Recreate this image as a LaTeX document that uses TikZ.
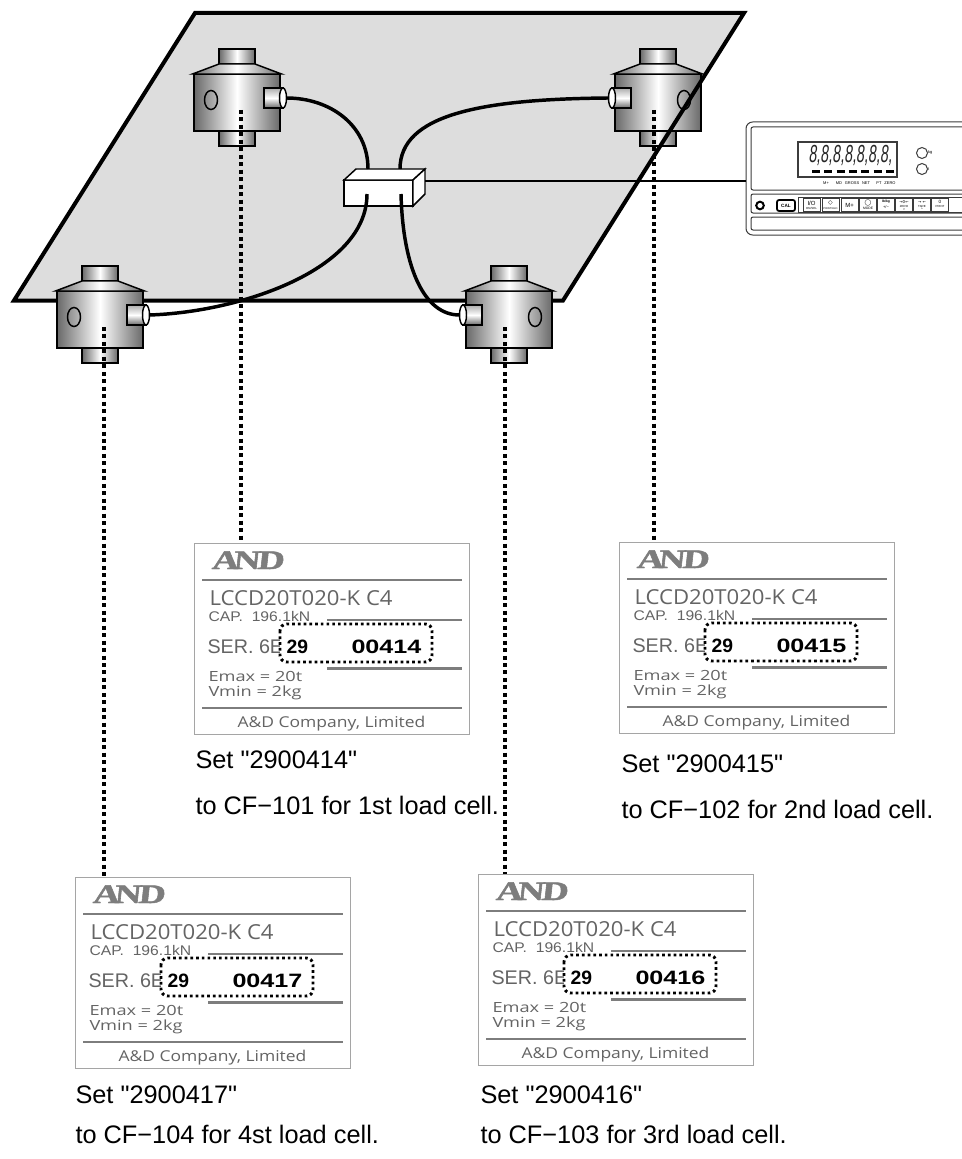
\documentclass[tikz,border=0pt]{standalone}
\usepackage{graphicx}
\usepackage{fontspec}
\setmainfont{Liberation Sans}
\newfontfamily\platefont{Open Sans}
\newfontfamily\logofont[FakeBold=1.5,FakeSlant=0.08]{Liberation Serif Bold}
\newfontfamily\symbfont{DejaVu Sans}
\newfontfamily\lcdfont[FakeSlant=0.2]{Liberation Sans}

\definecolor{deckgray}{RGB}{221,221,221}
\definecolor{platetext}{RGB}{100,100,100}
\definecolor{platebar}{RGB}{125,125,125}
\definecolor{plateframe}{RGB}{165,165,165}
\definecolor{steel}{RGB}{105,105,105}
\definecolor{panelline}{RGB}{60,60,60}

\tikzset{every picture/.style={line width=0.75pt}}
\tikzset{
  metal/.style={left color=steel, right color=steel, middle color=white},
  plugmetal/.style={top color=steel!55, bottom color=steel, middle color=white},
  cellline/.style={line width=1.1pt},
  cable/.style={line width=2.6pt},
  dotline/.style={line width=3pt, dash pattern=on 3pt off 2.6pt},
  serbox/.style={line width=2.2pt, dash pattern=on 2pt off 2.3pt, rounded corners=5pt, fill=white},
  platerule/.style={draw=platebar, line width=2.2pt},
  txt/.style={inner sep=0pt, anchor=base west},
  logo/.style={txt, text=platebar, font=\logofont\fontsize{20}{20}\selectfont},
  typeline/.style={txt, text=platetext, font=\platefont\fontsize{15.5}{16}\selectfont},
  capline/.style={txt, text=platetext, font=\fontsize{10.5}{11}\selectfont},
  serline/.style={txt, text=platetext, font=\fontsize{14.8}{15}\selectfont},
  sernum/.style={txt, font=\bfseries\fontsize{14.5}{15}\selectfont},
  smallline/.style={txt, text=platetext, font=\platefont\fontsize{10.5}{11}\selectfont},
  maker/.style={inner sep=0pt, anchor=base, text=platetext, font=\platefont\fontsize{11.2}{12}\selectfont},
  caption/.style={txt, font=\fontsize{19}{20}\selectfont},
  paneltxt/.style={inner sep=0pt, font=\fontsize{3}{3}\selectfont},
  panelsym/.style={inner sep=0pt, font=\symbfont\fontsize{4.5}{4.5}\selectfont},
}

% load cell: name, x, y (top of cap), side of the plug (1 right, -1 left)
\newcommand\loadcell[4]{%
\begin{scope}[shift={(#2,#3)}, xscale=#4]
\draw [cellline, metal] (-18,82) rectangle (18,97); % lower stem
\draw [cellline, metal] (-43,25) rectangle (43,82); % body
\draw [cellline, metal] (-18,0) rectangle (18,15); % upper stem
\draw [cellline, metal] (-18,15) -- (18,15) -- (44.5,25) -- (-44.5,25) -- cycle;
\draw [cellline] (-26,51) ellipse (6.5 and 9.5); % hole
\draw [cellline, plugmetal] (27,39) rectangle (46,59); % plug
\draw [cellline, fill=white] (46,49) ellipse (3.5 and 10);
\coordinate (#1-plug) at (49.5,49);
\coordinate (#1-tap) at (4,61);
\end{scope}}

% name plate: name, x, y (top left), serial
\newcommand\nameplate[4]{%
\begin{scope}[shift={(#2,#3)}]
\draw [plateframe, fill=white] (0,0) rectangle (275,191);
\coordinate (#1-n) at (0,0);
\node [logo] (#1-logo) at (17,26) {\scalebox{1.4}[1]{A\kern-3pt N\kern-1.5pt D}};
\draw [platerule] (8,37) -- (268,37);
\node [typeline] (#1-type) at (15,62) {\scalebox{1.07}[1]{LCCD20T020-K C4}};
\node [capline] (#1-cap) at (14,78) {\scalebox{1.12}[1]{CAP.\ \ 196.1kN}};
\draw [platerule, line width=1.6pt] (133,77) -- (268,77);
\node [serline] (#1-ser) at (13,110) {SER. 6E};
\draw [serbox] (86,81) rectangle (238,119);
\node [sernum] (#1-lot) at (92,110) {29};
\node [sernum] (#1-num) at (157,110) {\scalebox{1.3}[1]{#4}};
\draw [platerule, line width=1.8pt] (133,125.5) -- (268,125.5);
\node [smallline] (#1-emax) at (14,138) {\scalebox{1.3}[1]{Emax = 20t}};
\node [smallline] (#1-vmin) at (14,153) {\scalebox{1.3}[1]{Vmin = 2kg}};
\draw [platerule] (8,165) -- (268,165);
\node [maker] (#1-maker) at (137.5,184) {\scalebox{1.17}[1]{A\&D Company, Limited}};
\end{scope}}

\begin{document}
\begin{tikzpicture}[x=0.75pt,y=0.75pt,yscale=-1,xscale=1]
\useasboundingbox (0,0) rectangle (962,1159);
\clip (0,0) rectangle (962,1159);

%Shape: platform
\fill [deckgray] (195,13) -- (744,13) -- (563,300.5) -- (14,300.5) -- cycle;
\loadcell{c1}{237}{49}{1}
\loadcell{c2}{658}{49}{-1}
\draw [line width=3pt, line join=miter] (195,13) -- (744,13) -- (563,300.5) -- (14,300.5) -- cycle;
\loadcell{c3}{509}{266}{-1}
\loadcell{c4}{100}{266}{1}

%Shape: junction box
\draw [line width=1.1pt, fill=white] (344,180) rectangle (413,206);
\draw [line width=1.1pt, fill=white] (344,180) -- (356,169) -- (425,169) -- (413,180) -- cycle;
\draw [line width=1.1pt, fill=white] (413,180) -- (425,169) -- (425,194) -- (413,206) -- cycle;
\coordinate (jb-tl) at (368,169);
\coordinate (jb-tr) at (400,169);
\coordinate (jb-bl) at (367,194);
\coordinate (jb-br) at (401,194);
\coordinate (jb-r) at (425,181);

%Shape: indicator
\draw [panelline, rounded corners=5pt, fill=white] (746,122) rectangle (990,235);
\draw [panelline, rounded corners=1.5pt] (751,127) rectangle (990,190);
\draw [panelline, rounded corners=1.5pt] (751,194) rectangle (990,213);
\draw [panelline, rounded corners=1.5pt] (751,217) rectangle (990,230);
\coordinate (ind-w) at (746,181);
\draw [panelline, line width=0.9pt] (798,142) rectangle (897,177); % display
\node [txt, text=black!85, font=\lcdfont\fontsize{18.5}{18.5}\selectfont] (lcd) at (808,162) {\scalebox{0.58}[1]{8,8,8,8,8,8,8,}};
\draw [line width=1.6pt] (812,171.5) -- (820,171.5) (824.3,171.5) -- (832.3,171.5) (836.6,171.5) -- (844.6,171.5) (848.9,171.5) -- (856.9,171.5) (861.2,171.5) -- (869.2,171.5) (873.5,171.5) -- (881.5,171.5) (885.8,171.5) -- (893.8,171.5);
\node [paneltxt] (ann1) at (826,183) {M+};
\node [paneltxt] (ann2) at (839,183) {MD};
\node [paneltxt] (ann3) at (852,183) {GROSS};
\node [paneltxt] (ann4) at (866,183) {NET};
\node [paneltxt] (ann5) at (879,183) {PT};
\node [paneltxt] (ann6) at (890,183) {ZERO};
\draw [panelline] (922,153) circle (5.5);
\draw [panelline] (922,169) circle (5.5);
\node [paneltxt, anchor=west] (unitkg) at (927.5,152) {kg};
\node [paneltxt, anchor=west] (unitt) at (927.5,169) {t};
% keys
\draw [line width=1.5pt] (760,205.5) circle (3.8);
\draw [line width=1.3pt, rounded corners=1.5pt] (777,200) rectangle (795,211);
\node [paneltxt, font=\bfseries\fontsize{3.5}{3.5}\selectfont] (calkey) at (786,205.5) {CAL};
\draw [panelline] (798,197) rectangle (990,212);
\draw [panelline] (803,198.5) rectangle (820,211) (822,198.5) rectangle (839,211) (841,198.5) rectangle (858,211) (859.5,198.5) rectangle (876.5,211) (877.5,198.5) rectangle (894.5,211) (895.5,198.5) rectangle (912.5,211) (913.5,198.5) rectangle (930.5,211) (931.5,198.5) rectangle (948.5,211);
\node [paneltxt, font=\fontsize{4.5}{4.5}\selectfont] (k1a) at (811.5,203) {I/O};
\node [paneltxt, font=\fontsize{2.2}{2.2}\selectfont] (k1b) at (811.5,208.5) {ON/SEL};
\node [panelsym] (k2a) at (830.5,203) {◇};
\node [paneltxt, font=\fontsize{2}{2}\selectfont] (k2b) at (830.5,209) {PRINT/HLD};
\node [paneltxt, font=\fontsize{4.5}{4.5}\selectfont] (k3a) at (849.5,205) {M+};
\node [panelsym] (k4a) at (868,203) {◯};
\node [paneltxt, font=\fontsize{2.5}{2.5}\selectfont] (k4b) at (868,208.5) {MODE};
\node [paneltxt, font=\bfseries\fontsize{2.5}{2.5}\selectfont] (k5a) at (886,202) {lb/kg};
\node [paneltxt, font=\fontsize{3}{3}\selectfont] (k5b) at (886,207.5) {+/−};
\node [panelsym, font=\symbfont\fontsize{3}{3}\selectfont] (k6a) at (904,202) {→0←};
\node [paneltxt, font=\fontsize{2.2}{2.2}\selectfont] (k6b) at (904,206) {ZERO};
\node [paneltxt, font=\fontsize{2.5}{2.5}\selectfont] (k6c) at (904,209.5) {>};
\node [panelsym, font=\symbfont\fontsize{3}{3}\selectfont] (k7a) at (922,202) {→ ←};
\node [paneltxt, font=\fontsize{2.2}{2.2}\selectfont] (k7b) at (922,206) {TARE};
\node [paneltxt, font=\fontsize{2.5}{2.5}\selectfont] (k7c) at (922,209.5) {\^{}};
\node [paneltxt, font=\fontsize{3.5}{3.5}\selectfont] (k8a) at (940,202) {0};
\node [paneltxt, font=\fontsize{2.2}{2.2}\selectfont] (k8b) at (940,206.5) {PRINT};

%Cables
\draw [cable] (c1-plug) .. controls (330,98) and (368,125) .. (jb-tl);
\draw [cable] (c2-plug) .. controls (480,99) and (400,115) .. (jb-tr);
\draw [cable] (jb-bl) .. controls (367,270) and (240,312) .. (c4-plug);
\draw [cable] (jb-br) .. controls (403,270) and (425,315) .. (c3-plug);
\draw [line width=2pt] (jb-r) -- (ind-w);

%Name plates
\nameplate{p1}{194}{543}{00414}
\nameplate{p2}{619}{542}{00415}
\nameplate{p3}{478}{874}{00416}
\nameplate{p4}{75}{877}{00417}

%Dotted leaders
\draw [dotline] (c1-tap) -- (c1-tap |- p1-n);
\draw [dotline] (c2-tap) -- (c2-tap |- p2-n);
\draw [dotline] (c3-tap) -- (c3-tap |- p3-n);
\draw [dotline] (c4-tap) -- (c4-tap |- p4-n);

% Text Node
\node [caption] (cap1a) at (195,768) {Set \textquotedbl 2900414\textquotedbl};
\node [caption] (cap1b) at (195,814) {to CF−101 for 1st load cell.};
% Text Node
\node [caption] (cap2a) at (621,772) {Set \textquotedbl 2900415\textquotedbl};
\node [caption] (cap2b) at (621,818) {to CF−102 for 2nd load cell.};
% Text Node
\node [caption] (cap3a) at (480,1103) {Set \textquotedbl 2900416\textquotedbl};
\node [caption] (cap3b) at (480,1143) {to CF−103 for 3rd load cell.};
% Text Node
\node [caption] (cap4a) at (75,1103) {Set \textquotedbl 2900417\textquotedbl};
\node [caption] (cap4b) at (75,1143) {to CF−104 for 4st load cell.};

\end{tikzpicture}
\end{document}
